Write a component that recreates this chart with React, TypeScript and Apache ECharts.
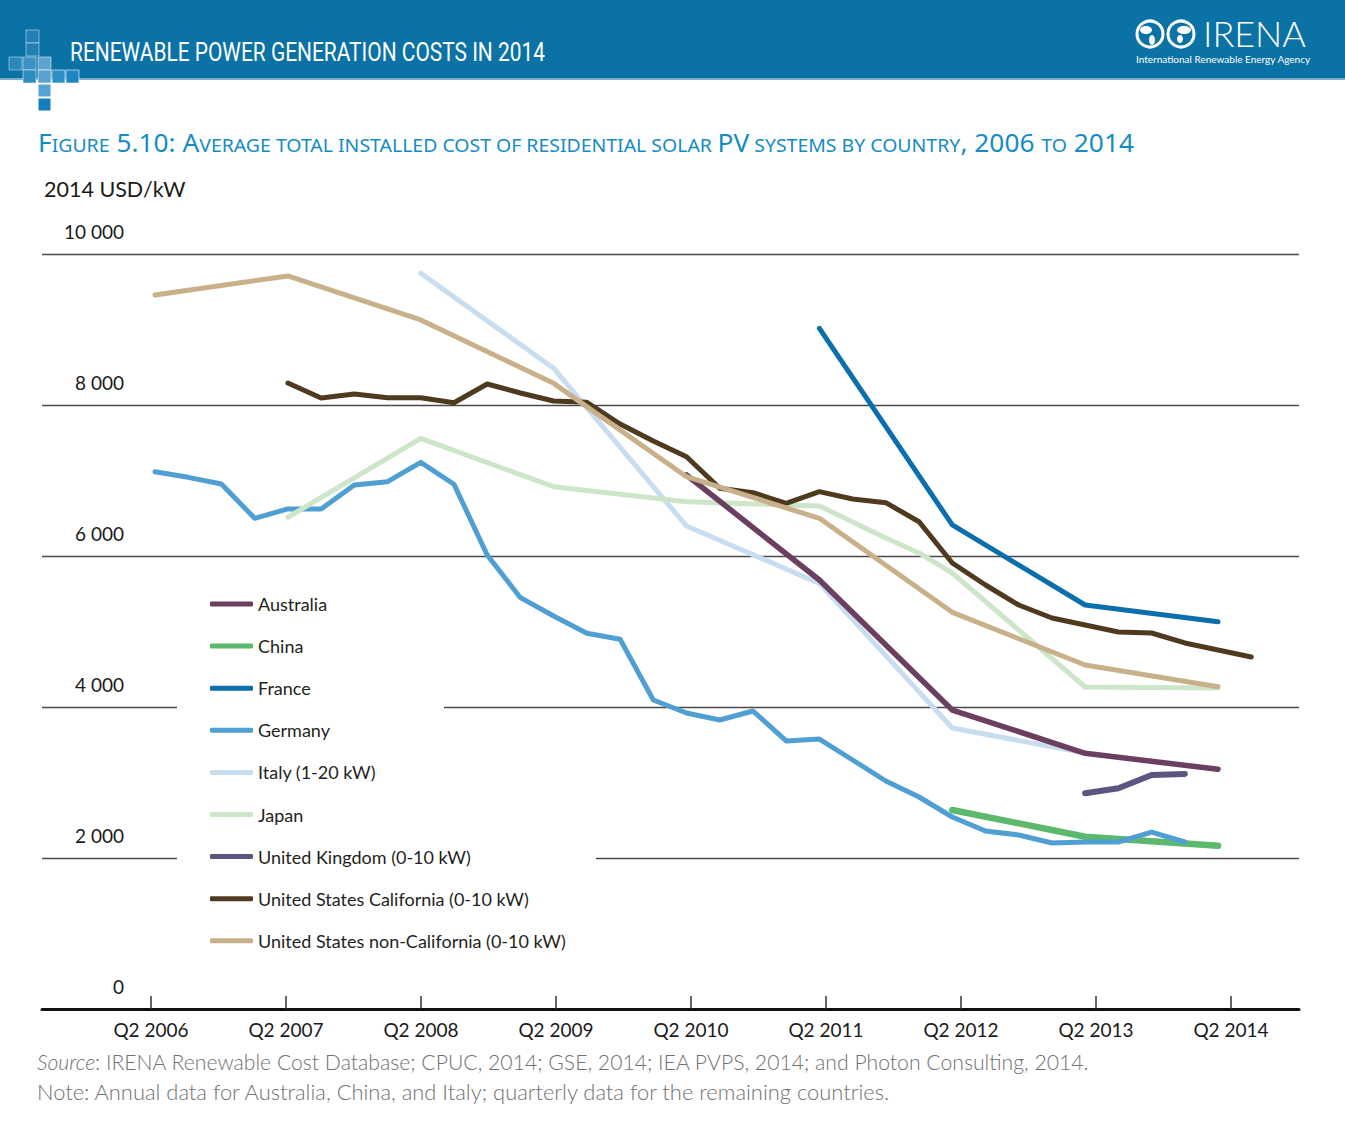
import React, { useEffect, useRef } from 'react';
import * as echarts from 'echarts';

// x = quarter index, 0 = Q2 2006
const xTickValues = [0, 4, 8, 12, 16, 20, 24, 28, 32];
const xTickLabels = ['Q2 2006', 'Q2 2007', 'Q2 2008', 'Q2 2009', 'Q2 2010', 'Q2 2011', 'Q2 2012', 'Q2 2013', 'Q2 2014'];
const yTickValues = [0, 2000, 4000, 6000, 8000, 10000];
const yTickLabels = ['0', '2 000', '4 000', '6 000', '8 000', '10 000'];

const seriesNames = [
  'Australia',
  'China',
  'France',
  'Germany',
  'Italy (1-20 kW)',
  'Japan',
  'United Kingdom (0-10 kW)',
  'United States California (0-10 kW)',
  'United States non-California (0-10 kW)',
];
const seriesColors = ['#6b3f5f', '#5cb86d', '#0b6fae', '#4f9fd3', '#c8ddf0', '#cde5c8', '#5b5680', '#4e3a1e', '#c8b08a'];

const australia = [[16, 7073], [20, 5682], [24, 3960], [28, 3387], [32, 3175]];
const china = [[24, 2636], [28, 2282], [32, 2163]];
const france = [[20, 9016], [24, 6411], [28, 5351], [32, 5130]];
const germanyValues = [
  7117, 7042, 6954, 6499, 6623, 6623, 6940, 6984, 7241, 6950, 6013, 5448, 5205, 4976, 4897, 4093,
  3921, 3828, 3947, 3550, 3576, 3298, 3020, 2808, 2543, 2358, 2305, 2199, 2212, 2212, 2344, 2212,
];
const italy = [[8, 9744], [12, 8486], [16, 6397], [20, 5638], [24, 3722], [28, 3391]];
const japan = [[4, 6513], [8, 7559], [12, 6918], [16, 6719], [20, 6662], [22, 6238], [23, 6040], [24, 5775], [28, 4265], [32, 4252]];
const uk = [[28, 2857], [29, 2923], [30, 3099], [31, 3113]];
const californiaValues = [
  8291, 8093, 8146, 8097, 8097, 8030, 8278, 8159, 8053, 8036, 7748, 7523, 7315, 6897, 6838, 6698,
  6852, 6755, 6706, 6454, 5907, 5616, 5351, 5179, 5086, 4993, 4980, 4848, 4755, 4662,
];
const californiaStart = 4;
const nonCalifornia = [[0, 9457], [4, 9709], [8, 9126], [12, 8287], [16, 7050], [20, 6499], [24, 5254], [28, 4556], [32, 4269]];

// drawing order (later = on top); legend keeps seriesNames order
const drawOrder = [1, 3, 4, 5, 0, 2, 6, 7, 8];

export default function App() {
  const ref = useRef<HTMLDivElement>(null);
  useEffect(() => {
    if (!ref.current) return;
    const chart = echarts.init(ref.current, null, { renderer: 'svg' });
    const germany = germanyValues.map((v, i) => [i, v]);
    const california = californiaValues.map((v, i) => [i + californiaStart, v]);
    const dataSets = [australia, china, france, germany, italy, japan, uk, california, nonCalifornia];
    const widths = [5.5, 6.5, 5, 5, 5, 5, 6, 5, 5];

    const squares: any[] = [];
    const sq = (x: number, y: number, fill: string, stroke: string) =>
      squares.push({ type: 'rect', shape: { x, y, width: 13, height: 13 }, style: { fill, stroke, lineWidth: 1 }, z: 10 });
    sq(26, 30, '#1f80b4', 'rgba(255,255,255,0.45)');
    sq(26, 43, '#1f80b4', 'rgba(255,255,255,0.45)');
    sq(9, 57, '#2a88bb', 'rgba(255,255,255,0.45)');
    sq(23, 57, '#3a91c2', 'rgba(255,255,255,0.45)');
    sq(38, 57, '#5ca4cd', 'rgba(255,255,255,0.5)');
    sq(23, 70, '#2f8cc0', 'rgba(255,255,255,0.5)');
    sq(38, 70, '#5aa3cf', 'rgba(255,255,255,0.6)');
    sq(52, 70, '#2d8fc6', 'rgba(255,255,255,0.6)');
    sq(66, 70, '#1b86c2', 'rgba(255,255,255,0.6)');
    sq(38, 84, '#55a3d4', '#ffffff');
    sq(38, 98, '#137cbb', '#ffffff');

    const titleBlue = '#158cc4';

    chart.setOption({
      animation: false,
      backgroundColor: '#ffffff',
      grid: { left: 42, right: 46, top: 254, bottom: 125, containLabel: false },
      xAxis: [
        {
          type: 'value',
          min: -3.2296,
          max: 34.015,
          position: 'bottom',
          axisLine: { show: true, lineStyle: { color: '#111111', width: 3 } },
          axisTick: { show: true, inside: true, length: 13, lineStyle: { color: '#333333', width: 1.5 }, customValues: xTickValues },
          axisLabel: {
            customValues: xTickValues,
            formatter: (v: number) => xTickLabels[Math.round(v / 4)] ?? '',
            margin: 11,
            fontSize: 19,
            fontFamily: 'Lato',
            color: '#1a1a1a',
          },
          splitLine: { show: false },
        },
        { type: 'value', min: -3.4015, max: 34.437, show: false },
      ],
      yAxis: {
        type: 'value',
        min: 0,
        max: 10000,
        interval: 2000,
        axisLine: { show: false },
        axisTick: { show: false },
        splitLine: { show: true, lineStyle: { color: '#4a4a4a', width: 1.3 } },
        axisLabel: {
          inside: true,
          margin: 82,
          align: 'right',
          verticalAlign: 'bottom',
          padding: [0, 0, 13, 0],
          fontSize: 19,
          fontFamily: 'Lato',
          color: '#1a1a1a',
          formatter: (v: number) => yTickLabels[yTickValues.indexOf(v)] ?? '',
        },
      },
      legend: {
        orient: 'vertical',
        left: 210,
        top: 593,
        padding: 0,
        itemWidth: 43,
        itemHeight: 5,
        itemGap: 20.1,
        icon: 'roundRect',
        selectedMode: false,
        textStyle: { fontSize: 18, fontFamily: 'Lato', color: '#231f20', lineHeight: 22 },
        data: seriesNames,
      },
      series: drawOrder.map((i) => ({
        name: seriesNames[i],
        type: 'line',
        xAxisIndex: 1,
        data: dataSets[i],
        symbol: 'none',
        color: seriesColors[i],
        lineStyle: { color: seriesColors[i], width: widths[i], cap: 'round', join: 'round' },
      })),
      graphic: [
        { type: 'rect', shape: { x: 0, y: 0, width: 1345, height: 79 }, style: { fill: '#0a72a4' }, z: 5 },
        { type: 'rect', shape: { x: 0, y: 78, width: 1345, height: 2 }, style: { fill: '#7aaccb' }, z: 5 },
        ...squares,
        {
          type: 'group',
          x: 70,
          y: 52,
          scaleX: 0.805,
          z: 10,
          children: [
            {
              type: 'text',
              style: {
                text: 'RENEWABLE POWER GENERATION COSTS IN 2014',
                fill: '#ffffff',
                fontSize: 26,
                fontFamily: 'Roboto',
                verticalAlign: 'middle',
              },
              z: 10,
            },
          ],
        },
        { type: 'circle', shape: { cx: 1150, cy: 34, r: 13 }, style: { fill: 'none', stroke: '#ffffff', lineWidth: 3 }, z: 10 },
        { type: 'circle', shape: { cx: 1181, cy: 34, r: 13 }, style: { fill: 'none', stroke: '#ffffff', lineWidth: 3 }, z: 10 },
        { type: 'ellipse', shape: { cx: 1146, cy: 30, rx: 6, ry: 4 }, style: { fill: '#ffffff' }, z: 10 },
        { type: 'ellipse', shape: { cx: 1152, cy: 40, rx: 3, ry: 5 }, style: { fill: '#ffffff' }, z: 10 },
        { type: 'ellipse', shape: { cx: 1184, cy: 30, rx: 7, ry: 4 }, style: { fill: '#ffffff' }, z: 10 },
        { type: 'ellipse', shape: { cx: 1180, cy: 39, rx: 3, ry: 4 }, style: { fill: '#ffffff' }, z: 10 },
        {
          type: 'text',
          x: 1203,
          y: 33,
          style: {
            text: 'IRENA',
            fill: '#ffffff',
            fontSize: 36,
            lineHeight: 28,
            fontFamily: 'Lato',
            fontWeight: 300,
            verticalAlign: 'middle',
          },
          z: 10,
        },
        {
          type: 'text',
          x: 1136,
          y: 58.5,
          style: {
            text: 'International Renewable Energy Agency',
            fill: '#ffffff',
            fontSize: 10,
            lineHeight: 10,
            fontFamily: 'Lato',
            verticalAlign: 'middle',
          },
          z: 10,
        },
        {
          type: 'group',
          x: 38,
          y: 140,
          scaleX: 1.052,
          z: 10,
          children: [
            {
              type: 'text',
              style: {
                text:
                  '{b|F}{s|IGURE}{b| 5.10: A}{s|VERAGE TOTAL INSTALLED COST OF RESIDENTIAL SOLAR }{b|PV}{s| SYSTEMS BY COUNTRY}{b|, 2006 }{s|TO}{b| 2014}',
                verticalAlign: 'middle',
                fill: titleBlue,
                rich: {
                  b: { fontSize: 25, fontFamily: 'Noto Sans', fill: titleBlue, verticalAlign: 'bottom', lineHeight: 30 },
                  s: { fontSize: 18.5, fontFamily: 'Noto Sans', fill: titleBlue, verticalAlign: 'bottom', lineHeight: 30 },
                },
              },
              z: 10,
            },
          ],
        },
        {
          type: 'text',
          x: 44,
          y: 189,
          style: { text: '2014 USD/kW', fill: '#1a1a1a', fontSize: 21.5, fontFamily: 'Lato', verticalAlign: 'middle' },
          z: 10,
        },
        { type: 'rect', shape: { x: 177, y: 701, width: 267, height: 12 }, style: { fill: '#ffffff' }, z: 3 },
        { type: 'rect', shape: { x: 177, y: 851, width: 419, height: 12 }, style: { fill: '#ffffff' }, z: 3 },
        {
          type: 'text',
          x: 37,
          y: 1062,
          style: {
            text: '{i|Source}: IRENA Renewable Cost Database; CPUC, 2014; GSE, 2014; IEA PVPS, 2014; and Photon Consulting, 2014.',
            fill: '#707070',
            fontSize: 21.2,
            fontFamily: 'Lato',
            fontWeight: 300,
            verticalAlign: 'middle',
            rich: { i: { fontStyle: 'italic', fontSize: 21.2, fontFamily: 'Lato', fontWeight: 300, fill: '#707070' } },
          },
          z: 10,
        },
        {
          type: 'text',
          x: 37,
          y: 1091,
          style: {
            text: 'Note: Annual data for Australia, China, and Italy; quarterly data for the remaining countries.',
            fill: '#707070',
            fontSize: 21.9,
            fontFamily: 'Lato',
            fontWeight: 300,
            verticalAlign: 'middle',
          },
          z: 10,
        },
      ],
    });
    return () => chart.dispose();
  }, []);
  return <div ref={ref} style={{ position: 'fixed', left: 0, top: 0, width: 1345, height: 1134, background: '#fff' }} />;
}
